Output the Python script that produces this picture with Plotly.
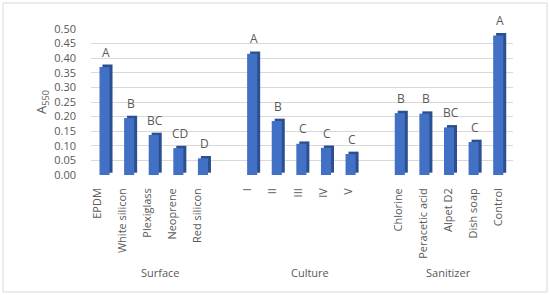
import plotly.graph_objects as go

# Dados (A550 por grupo)
groups = ["Surface", "Culture", "Sanitizer"]
surface_labels = ["EPDM", "White silicon", "Plexiglass", "Neoprene", "Red silicon"]
surface_values = [0.37, 0.195, 0.137, 0.092, 0.057]
surface_letters = ["A", "B", "BC", "CD", "D"]

culture_labels = ["I", "II", "III", "IV", "V"]
culture_values = [0.415, 0.185, 0.107, 0.093, 0.072]
culture_letters = ["A", "B", "C", "C", "C"]

sanitizer_labels = ["Chlorine", "Peracetic acid", "Alpet D2", "Dish soap", "Control"]
sanitizer_values = [0.212, 0.21, 0.163, 0.113, 0.478]
sanitizer_letters = ["B", "B", "BC", "C", "A"]

y_ticks = [0.0, 0.05, 0.10, 0.15, 0.20, 0.25, 0.30, 0.35, 0.40, 0.45, 0.50]

font_family = "Open Sans"
text_color = "#595959"
front_color = "#4170C4"
side_color = "#2C4F91"

# Monta as posições: um espaço vazio entre os grupos
labels, values, letters, xs, group_centers = [], [], [], [], []
pos = 0
blocks = [(surface_labels, surface_values, surface_letters),
          (culture_labels, culture_values, culture_letters),
          (sanitizer_labels, sanitizer_values, sanitizer_letters)]
for gi, (lb, vl, lt) in enumerate(blocks):
    start = pos
    for a, b, c in zip(lb, vl, lt):
        labels.append(a)
        values.append(b)
        letters.append(c)
        xs.append(pos)
        pos += 1
    end = pos if gi < len(blocks) - 1 else pos - 1
    group_centers.append((start + end) / 2)
    pos += 1

bar_w = 0.41
depth_x = 0.12
depth_y = 0.008

fig = go.Figure()

# lateral/topo escuro (efeito 3D)
fig.add_trace(go.Bar(x=xs, y=values, base=depth_y, width=bar_w,
                     offset=-bar_w / 2 + depth_x, marker_color=side_color,
                     marker_line_width=0, hoverinfo="skip"))
# face frontal
fig.add_trace(go.Bar(x=xs, y=values, width=bar_w, offset=-bar_w / 2,
                     marker_color=front_color, marker_line_width=0))

# eixo auxiliar só para os rótulos (perspectiva)
fig.add_trace(go.Scatter(x=xs, y=[0] * len(xs), xaxis="x2", mode="markers",
                         marker=dict(opacity=0), hoverinfo="skip"))

for x, v, t in zip(xs, values, letters):
    fig.add_annotation(x=x + depth_x / 2, y=v + depth_y, text=t, showarrow=False,
                       yanchor="bottom", yshift=2,
                       font=dict(family=font_family, size=12, color=text_color))

for c, g in zip(group_centers, groups):
    fig.add_annotation(x=c, xref="x2", y=-0.67, yref="paper", text=g,
                       showarrow=False, yanchor="middle",
                       font=dict(family=font_family, size=11, color=text_color))

fig.update_layout(
    width=550, height=295,
    margin=dict(l=91, r=37, t=29, b=120),
    barmode="overlay",
    showlegend=False,
    plot_bgcolor="white",
    paper_bgcolor="white",
    font=dict(family=font_family, size=11, color=text_color),
    xaxis=dict(range=[-0.55, 16.6], showticklabels=False, showgrid=False,
               zeroline=False, showline=False, ticks="", automargin=False),
    xaxis2=dict(range=[-0.257, 16.58], domain=[0, 0.93], overlaying="x",
                side="bottom", anchor="y", tickmode="array", tickvals=xs,
                ticktext=labels, tickangle=-90, showgrid=False, zeroline=False,
                showline=False, ticks="", ticklabelstandoff=10, automargin=False,
                tickfont=dict(family=font_family, size=11, color=text_color)),
    yaxis=dict(range=[0, 0.5], tickmode="array", tickvals=y_ticks,
               tickformat=".2f", gridcolor="#D9D9D9", gridwidth=1,
               zeroline=False, showline=False, ticks="", ticklabelstandoff=14,
               automargin=False,
               title=dict(text="A<sub>550</sub>", standoff=4,
                          font=dict(family=font_family, size=13, color=text_color)),
               tickfont=dict(family=font_family, size=11, color=text_color)),
)

# moldura do gráfico
fig.add_shape(type="rect", xref="paper", yref="paper",
              x0=(3 - 91) / 422, x1=(547 - 91) / 422,
              y0=-(292 - 175) / 146, y1=1 + (29 - 3) / 146,
              line=dict(color="#D9D9D9", width=1))

# tira a margem padrão do <body>
fig.write_html("out.html", config={"displayModeBar": False},
               post_script="document.body.style.margin='0';")
